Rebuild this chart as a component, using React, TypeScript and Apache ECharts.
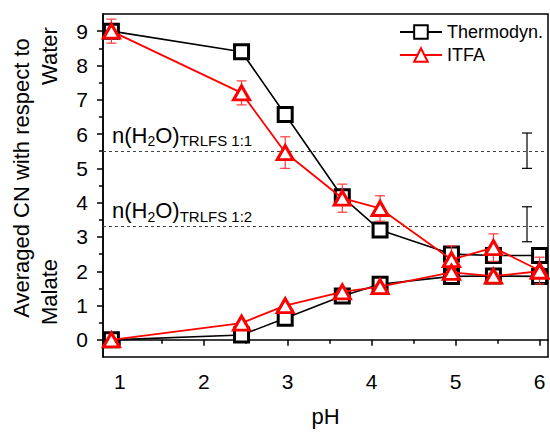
import React, { useEffect, useRef } from "react";
import * as echarts from "echarts";

// pH values shared by both methods
const pH = [0.9, 2.45, 2.97, 3.65, 4.1, 4.95, 5.45, 6.0];

// Thermodynamic model: water and malate coordination numbers
const thermoWater = [9.0, 8.4, 6.57, 4.17, 3.2, 2.5, 2.46, 2.46];
const thermoMalate = [0.0, 0.14, 0.63, 1.28, 1.62, 1.85, 1.86, 1.85];

// ITFA results with their uncertainties
const itfaWater = [9.0, 7.2, 5.46, 4.13, 3.83, 2.34, 2.69, 2.02];
const itfaWaterErr = [0.35, 0.35, 0.46, 0.41, 0.37, 0.4, 0.4, 0.39];
const itfaMalate = [0.0, 0.49, 1.0, 1.4, 1.55, 1.97, 1.86, 2.0];
const itfaMalateErr = [0, 0, 0, 0.05, 0.05, 0.1, 0.08, 0.1];

// TRLFS hydration numbers (dashed levels) and their uncertainty ranges
const trlfsLevels = [5.5, 3.3];
const trlfsNames = ["1:1", "1:2"];
const trlfsErrX = 5.85;
const trlfsLow = [5.0, 2.86];
const trlfsHigh = [6.03, 3.88];

const xTicks = [1, 2, 3, 4, 5, 6];
const xMinorTicks = [1.5, 2.5, 3.5, 4.5, 5.5];
const yTicks = [0, 1, 2, 3, 4, 5, 6, 7, 8, 9];
const yMinorTicks = [0.5, 1.5, 2.5, 3.5, 4.5, 5.5, 6.5, 7.5, 8.5];

const FONT = "'Liberation Sans', Arial, sans-serif";

function errorBarSeries(data: number[][], color: string, width: number, z: number) {
  return {
    type: "custom",
    xAxisIndex: 0,
    yAxisIndex: 0,
    z,
    silent: true,
    encode: { x: 0, y: [1, 2] },
    data,
    renderItem: (params: any, api: any) => {
      const x = api.value(0);
      const top = api.coord([x, api.value(2)]);
      const bot = api.coord([x, api.value(1)]);
      const hw = 5;
      const style = { stroke: color, lineWidth: width };
      return {
        type: "group",
        children: [
          { type: "line", shape: { x1: top[0], y1: top[1], x2: bot[0], y2: bot[1] }, style },
          { type: "line", shape: { x1: top[0] - hw, y1: top[1], x2: top[0] + hw, y2: top[1] }, style },
          { type: "line", shape: { x1: bot[0] - hw, y1: bot[1], x2: bot[0] + hw, y2: bot[1] }, style },
        ],
      };
    },
  };
}

export default function App() {
  const ref = useRef<HTMLDivElement>(null);

  useEffect(() => {
    if (!ref.current) return;
    const chart = echarts.init(ref.current, undefined, { renderer: "svg" });

    const pairs = (ys: number[]) => pH.map((x, i) => [x, ys[i]]);
    const errs = (ys: number[], es: number[]) =>
      pH.map((x, i) => [x, ys[i] - es[i], ys[i] + es[i]]).filter((_, i) => es[i] > 0);

    const blackLine = {
      type: "line",
      name: "Thermodyn.",
      symbol: "rect",
      symbolSize: 14,
      itemStyle: { color: "#fff", borderColor: "#000", borderWidth: 3 },
      lineStyle: { color: "#000", width: 1.6 },
      emphasis: { disabled: true },
      z: 3,
    };
    const redLine = {
      type: "line",
      name: "ITFA",
      symbol: "triangle",
      symbolSize: [16, 14],
      itemStyle: { color: "#fff", borderColor: "#ff0000", borderWidth: 3 },
      lineStyle: { color: "#ff0000", width: 1.8 },
      emphasis: { disabled: true },
      z: 5,
    };

    const levelLabel = (name: string) =>
      `{m|n(H}{s|2}{m|O)}{t|TRLFS ${name}}`;

    chart.setOption({
      animation: false,
      backgroundColor: "#fff",
      textStyle: { fontFamily: FONT },
      grid: {
        left: 103,
        top: 14,
        right: 2,
        bottom: 68,
        show: true,
        borderColor: "#000",
        borderWidth: 1.5,
        backgroundColor: "transparent",
      },
      legend: {
        orient: "vertical",
        right: 7,
        top: 23,
        padding: 0,
        itemGap: 5,
        itemWidth: 42,
        itemHeight: 17,
        data: ["Thermodyn.", "ITFA"],
        textStyle: { fontSize: 18, color: "#000", fontFamily: FONT },
      },
      xAxis: [
        {
          type: "value",
          min: 0.8,
          max: 6.1,
          name: "pH",
          nameLocation: "middle",
          nameGap: 48,
          nameTextStyle: { fontSize: 22, color: "#000", fontFamily: FONT },
          axisLine: { lineStyle: { color: "#000", width: 1.5 } },
          axisTick: { show: true, inside: false, length: 6, customValues: xTicks, lineStyle: { color: "#000", width: 1.5 } },
          axisLabel: { customValues: xTicks, fontSize: 21, color: "#000", margin: 14, fontFamily: FONT },
          splitLine: { show: false },
        },
        {
          type: "value",
          min: 0.8,
          max: 6.1,
          position: "bottom",
          axisLine: { show: false },
          axisTick: { show: true, inside: false, length: 4, customValues: xMinorTicks, lineStyle: { color: "#000", width: 1.5 } },
          axisLabel: { show: false },
          splitLine: { show: false },
        },
      ],
      yAxis: [
        {
          type: "value",
          min: -0.5,
          max: 9.5,
          axisLine: { show: true, lineStyle: { color: "#000", width: 1.5 } },
          axisTick: { show: true, inside: false, length: 6, customValues: yTicks, lineStyle: { color: "#000", width: 1.5 } },
          axisLabel: { customValues: yTicks, fontSize: 21, color: "#000", margin: 15, fontFamily: FONT },
          splitLine: { show: false },
        },
        {
          type: "value",
          min: -0.5,
          max: 9.5,
          position: "left",
          axisLine: { show: false },
          axisTick: { show: true, inside: false, length: 4, customValues: yMinorTicks, lineStyle: { color: "#000", width: 1.5 } },
          axisLabel: { show: false },
          splitLine: { show: false },
        },
      ],
      graphic: [
        {
          type: "text",
          x: 21,
          y: 178,
          rotation: Math.PI / 2,
          style: { text: "Averaged CN with respect to", fontSize: 22, fontFamily: FONT, fill: "#000", align: "center", verticalAlign: "middle" },
        },
        {
          type: "text",
          x: 49,
          y: 56,
          rotation: Math.PI / 2,
          style: { text: "Water", fontSize: 22, fontFamily: FONT, fill: "#000", align: "center", verticalAlign: "middle" },
        },
        {
          type: "text",
          x: 49,
          y: 292,
          rotation: Math.PI / 2,
          style: { text: "Malate", fontSize: 22, fontFamily: FONT, fill: "#000", align: "center", verticalAlign: "middle" },
        },
      ],
      series: [
        {
          ...blackLine,
          data: pairs(thermoWater),
          markLine: {
            silent: true,
            symbol: "none",
            z: 1,
            lineStyle: { color: "#444", width: 1, type: [3, 3] },
            data: trlfsLevels.map((v, i) => ({
              yAxis: v,
              label: {
                show: true,
                position: "insideStartTop",
                distance: [9, 3],
                formatter: levelLabel(trlfsNames[i]),
                rich: {
                  m: { fontSize: 22, color: "#000", fontFamily: FONT, lineHeight: 26 },
                  s: { fontSize: 14, color: "#000", fontFamily: FONT, verticalAlign: "bottom" },
                  t: { fontSize: 15, color: "#000", fontFamily: FONT, verticalAlign: "bottom" },
                },
              },
            })),
          },
        },
        { ...blackLine, data: pairs(thermoMalate) },
        errorBarSeries(errs(itfaWater, itfaWaterErr), "#ff3a3a", 1.2, 4),
        errorBarSeries(errs(itfaMalate, itfaMalateErr), "#ff3a3a", 1.2, 4),
        { ...redLine, data: pairs(itfaWater) },
        { ...redLine, data: pairs(itfaMalate) },
        errorBarSeries(
          trlfsLow.map((lo, i) => [trlfsErrX, lo, trlfsHigh[i]]),
          "#000",
          1.2,
          2
        ),
      ],
    });

    return () => chart.dispose();
  }, []);

  return (
    <div
      ref={ref}
      style={{ position: "fixed", left: 0, top: 0, width: 550, height: 432, background: "#fff" }}
    />
  );
}
